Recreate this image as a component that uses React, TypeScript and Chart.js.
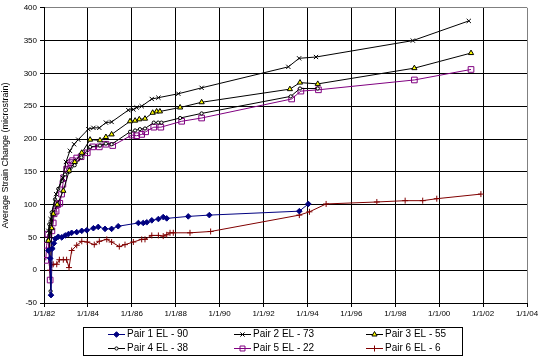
import React, { useEffect, useRef } from "react";
import { Chart, registerables } from "chart.js";
Chart.register(...registerables);

const FONT = "'Liberation Sans', Arial, sans-serif";

// ---- axis ticks ----
const xTickYears = [1982, 1984, 1986, 1988, 1990, 1992, 1994, 1996, 1998, 2000, 2002, 2004];
const xTickLabels = ["1/1/82", "1/1/84", "1/1/86", "1/1/88", "1/1/90", "1/1/92", "1/1/94", "1/1/96", "1/1/98", "1/1/00", "1/1/02", "1/1/04"];
const yMin = -50;
const yMax = 400;
const yStep = 50;
const yTitle = "Average Strain Change (microstrain)";

// ---- series names ----
const seriesNames = ["Pair 1 EL - 90", "Pair 2 EL - 73", "Pair 3 EL - 55", "Pair 4 EL - 38", "Pair 5 EL - 22", "Pair 6 EL - 6"];

// ---- data (decimal years, microstrain) ----
const pair1Years = [1982.20, 1982.28, 1982.32, 1982.38, 1982.45, 1982.52, 1982.65, 1982.81, 1982.96, 1983.11, 1983.26, 1983.49, 1983.72, 1983.95, 1984.25, 1984.47, 1984.78, 1985.08, 1985.38, 1986.30, 1986.52, 1986.68, 1986.91, 1987.21, 1987.43, 1987.59, 1988.57, 1989.53, 1993.63, 1994.04];
const pair1Values = [30, 18, -38, 33, 41, 48, 51, 50, 53, 55, 57, 58, 60, 61, 64, 66, 63, 63, 67, 72, 72, 73, 76, 78, 81, 79, 82, 84, 90, 101];

const pair2Years = [1982.20, 1982.30, 1982.55, 1982.85, 1983.00, 1983.18, 1983.37, 1983.56, 1984.02, 1984.25, 1984.52, 1984.82, 1985.08, 1985.84, 1986.07, 1986.22, 1986.45, 1986.91, 1987.21, 1988.12, 1989.18, 1993.13, 1993.62, 1994.39, 1998.80, 2001.35];
const pair2Values = [60, 78, 116, 141, 165, 182, 192, 199, 215, 217, 217, 225, 226, 244, 245, 248, 250, 261, 263, 269, 278, 310, 323, 325, 350, 380];

const pair3Years = [1982.20, 1982.35, 1982.42, 1982.60, 1982.88, 1983.15, 1983.40, 1983.72, 1984.10, 1984.55, 1984.82, 1985.08, 1985.92, 1986.15, 1986.34, 1986.60, 1986.95, 1987.13, 1987.28, 1988.20, 1989.18, 1993.20, 1993.66, 1994.47, 1998.87, 2001.45];
const pair3Values = [45, 64, 86, 100, 121, 152, 165, 179, 199, 198, 203, 207, 227, 228, 230, 231, 240, 242, 242, 248, 256, 276, 286, 284, 308, 331];

const pair4Years = [1982.18, 1982.24, 1982.30, 1982.35, 1982.50, 1982.65, 1982.81, 1982.96, 1983.15, 1983.40, 1983.70, 1984.10, 1984.55, 1984.82, 1985.08, 1985.92, 1986.15, 1986.37, 1986.60, 1987.00, 1987.20, 1987.35, 1988.20, 1989.18, 1993.24, 1993.66, 1994.47];
const pair4Values = [45, 70, -32, 88, 108, 124, 136, 146, 150, 160, 172, 188, 190, 193, 192, 211, 213, 215, 216, 225, 225, 225, 232, 239, 265, 277, 277];

const pair5Years = [1982.08, 1982.12, 1982.18, 1982.28, 1982.36, 1982.42, 1982.46, 1982.55, 1982.62, 1982.72, 1982.80, 1982.86, 1982.90, 1983.03, 1983.10, 1983.22, 1983.30, 1983.49, 1983.69, 1983.97, 1984.22, 1984.52, 1984.82, 1985.13, 1986.00, 1986.22, 1986.45, 1986.63, 1987.00, 1987.32, 1988.27, 1989.18, 1993.28, 1993.70, 1994.50, 1998.87, 2001.45];
const pair5Values = [15, 38, 55, -15, 60, 72, 86, 90, 100, 102, 116, 131, 141, 154, 160, 164, 167, 171, 173, 179, 188, 188, 192, 190, 206, 205, 207, 211, 218, 218, 227, 232, 261, 273, 275, 290, 306];

const pair6Years = [1982.27, 1982.35, 1982.42, 1982.58, 1982.70, 1982.88, 1983.03, 1983.14, 1983.26, 1983.49, 1983.72, 1983.97, 1984.29, 1984.52, 1984.86, 1985.08, 1985.43, 1985.69, 1986.07, 1986.45, 1986.60, 1986.91, 1987.21, 1987.43, 1987.59, 1987.74, 1987.89, 1988.65, 1989.59, 1993.63, 1994.09, 1994.85, 1997.16, 1998.45, 1999.25, 1999.89, 2001.90];
const pair6Values = [0, 8, 9, 9, 16, 16, 16, 4, 30, 38, 44, 43, 39, 44, 47, 43, 36, 39, 43, 47, 47, 53, 53, 52, 54, 57, 57, 57, 59, 84, 89, 101, 104, 106, 106, 109, 116];

// ---- styles ----
type Style = { color: string; point: string; radius: number; fill: string };
const styles: Style[] = [
  { color: "#000080", point: "rectRot", radius: 2.8, fill: "#000080" },
  { color: "#000000", point: "crossRot", radius: 3, fill: "#000000" },
  { color: "#000000", point: "triangle", radius: 3, fill: "#FFFF00" },
  { color: "#000000", point: "circle", radius: 1.6, fill: "#FFFFFF" },
  { color: "#800080", point: "rect", radius: 4, fill: "rgba(0,0,0,0)" },
  { color: "#800000", point: "cross", radius: 3, fill: "#800000" },
];

const allYears = [pair1Years, pair2Years, pair3Years, pair4Years, pair5Years, pair6Years];
const allValues = [pair1Values, pair2Values, pair3Values, pair4Values, pair5Values, pair6Values];

function drawMarker(ctx: CanvasRenderingContext2D, kind: string, x: number, y: number, r: number, stroke: string, fill: string) {
  ctx.save();
  ctx.strokeStyle = stroke;
  ctx.fillStyle = fill;
  ctx.lineWidth = 1;
  ctx.beginPath();
  if (kind === "rectRot") {
    ctx.moveTo(x, y - r); ctx.lineTo(x + r, y); ctx.lineTo(x, y + r); ctx.lineTo(x - r, y); ctx.closePath();
    ctx.fill(); ctx.stroke();
  } else if (kind === "crossRot") {
    const d = r * Math.SQRT1_2;
    ctx.moveTo(x - d, y - d); ctx.lineTo(x + d, y + d); ctx.moveTo(x - d, y + d); ctx.lineTo(x + d, y - d);
    ctx.stroke();
  } else if (kind === "triangle") {
    ctx.moveTo(x, y - r); ctx.lineTo(x + r * 0.866, y + r * 0.5); ctx.lineTo(x - r * 0.866, y + r * 0.5); ctx.closePath();
    ctx.fill(); ctx.stroke();
  } else if (kind === "circle") {
    ctx.arc(x, y, r, 0, Math.PI * 2); ctx.fill(); ctx.stroke();
  } else if (kind === "rect") {
    const s = r * Math.SQRT1_2;
    ctx.rect(x - s, y - s, 2 * s, 2 * s); ctx.fill(); ctx.stroke();
  } else if (kind === "cross") {
    ctx.moveTo(x, y - r); ctx.lineTo(x, y + r); ctx.moveTo(x - r, y); ctx.lineTo(x + r, y);
    ctx.stroke();
  }
  ctx.restore();
}

const legendPlugin = {
  id: "boxLegend",
  afterDraw(chart: any) {
    const ctx: CanvasRenderingContext2D = chart.ctx;
    ctx.save();
    ctx.fillStyle = "#000";
    ctx.fillRect(83, 327, 380, 1);
    ctx.fillRect(83, 355, 380, 1);
    ctx.fillRect(83, 327, 1, 29);
    ctx.fillRect(462, 327, 1, 29);
    const colX = [108, 234, 366];
    const rowY = [334.5, 348.5];
    ctx.font = `10px ${FONT}`;
    ctx.textBaseline = "middle";
    ctx.textAlign = "left";
    seriesNames.forEach((name, i) => {
      const col = i % 3;
      const row = Math.floor(i / 3);
      const x0 = colX[col];
      const y = rowY[row];
      const st = styles[i];
      ctx.fillStyle = st.color;
      ctx.fillRect(x0, Math.floor(y), 17, 1);
      drawMarker(ctx, st.point, x0 + 8.5, Math.floor(y) + 0.5, Math.min(st.radius, 3.5), st.color, st.fill);
      ctx.fillStyle = "#000";
      ctx.fillText(name, x0 + 19, y);
    });
    ctx.restore();
  },
};

export default function App() {
  const canvasRef = useRef<HTMLCanvasElement | null>(null);

  useEffect(() => {
    document.body.style.margin = "0";
    const canvas = canvasRef.current;
    if (!canvas) return;

    const datasets = seriesNames.map((name, i) => ({
      label: name,
      data: allYears[i].map((yr, j) => ({ x: yr, y: allValues[i][j] })),
      borderColor: styles[i].color,
      backgroundColor: styles[i].fill,
      pointBorderColor: styles[i].color,
      pointBackgroundColor: styles[i].fill,
      pointStyle: styles[i].point,
      pointRadius: styles[i].radius,
      pointBorderWidth: 1,
      borderWidth: 1,
      tension: 0,
      fill: false,
    }));

    const chart = new Chart(canvas, {
      type: "line",
      data: { datasets },
      plugins: [legendPlugin],
      options: {
        responsive: false,
        animation: false,
        devicePixelRatio: 1,
        layout: { padding: { top: 7, right: 20, left: 0, bottom: 0 } },
        plugins: {
          legend: { display: false },
          tooltip: { enabled: false },
        },
        scales: {
          x: {
            type: "linear",
            min: xTickYears[0],
            max: xTickYears[xTickYears.length - 1],
            afterBuildTicks: (scale: any) => {
              scale.ticks = xTickYears.map((v) => ({ value: v }));
            },
            afterFit: (scale: any) => {
              scale.height = 53;
            },
            ticks: {
              autoSkip: false,
              maxRotation: 0,
              minRotation: 0,
              padding: 2,
              color: "#000",
              font: { family: FONT, size: 8 },
              callback: (v: any) => {
                const idx = xTickYears.indexOf(Number(v));
                return idx >= 0 ? xTickLabels[idx] : "";
              },
            },
            grid: {
              color: (c: any) => (c.tick && c.tick.value === xTickYears[xTickYears.length - 1] ? "#808080" : "#000000"),
              tickColor: "#000000",
              tickLength: 4,
              lineWidth: 1,
            },
            border: { display: true, color: "#000000", width: 1 },
          },
          y: {
            type: "linear",
            min: yMin,
            max: yMax,
            afterFit: (scale: any) => {
              scale.width = 44;
            },
            ticks: {
              stepSize: yStep,
              padding: 3,
              color: "#000",
              font: { family: FONT, size: 8 },
            },
            title: {
              display: true,
              text: yTitle,
              color: "#000",
              font: { family: FONT, size: 9 },
              padding: { top: 0, bottom: 0 },
            },
            grid: {
              color: (c: any) => (c.tick && c.tick.value === yMax ? "#808080" : "#000000"),
              tickColor: "#000000",
              tickLength: 4,
              lineWidth: 1,
            },
            border: { display: true, color: "#000000", width: 1 },
          },
        },
      },
    } as any);

    return () => {
      chart.destroy();
    };
  }, []);

  return (
    <div style={{ width: 547, height: 356, position: "relative", background: "#fff" }}>
      <canvas ref={canvasRef} width={547} height={356} style={{ display: "block" }} />
    </div>
  );
}
